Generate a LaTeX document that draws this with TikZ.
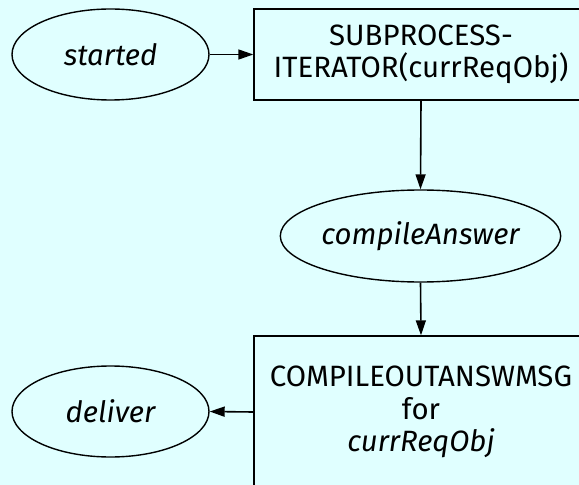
\documentclass[tikz,border=0pt]{standalone}
\usepackage{fontspec}
\setmainfont{Fira Sans}
\usetikzlibrary{shapes.geometric,arrows.meta}
\definecolor{canvas}{HTML}{E0FFFF}
\begin{document}
\begin{tikzpicture}[x=1bp,y=-1bp,
  every node/.style={font=\fontsize{29.5}{32.5}\selectfont, inner sep=0pt, line width=1.4bp, draw=black},
  state/.style={ellipse, minimum width=197bp, minimum height=91bp, font=\fontsize{29.5}{32.5}\selectfont\itshape},
  procbox/.style={rectangle, minimum width=334bp, align=center},
  flow/.style={line width=1.6bp, -{Triangle[length=15bp,width=10bp]}}
]
  % canvas
  \fill[canvas] (0,0) rectangle (579,485);
  \useasboundingbox (0,0) rectangle (579,485);
  \begin{scope}
  \clip (0,0) rectangle (579,485);

  \node[state] (started) at (110.5,54.5) {started};
  \node[procbox, minimum height=91bp] (iter) at (421,54.5) {SUBPROCESS-\\ITERATOR(currReqObj)};
  \node[state, minimum width=273bp, minimum height=92bp] (compile) at (420.5,236) {compileAnswer};
  \node[procbox, minimum height=152bp] (outmsg) at (421,412) {COMPILEOUTANSWMSG\\for\\\textit{currReqObj}};
  \node[state] (deliver) at (110.5,411.5) {deliver};

  \draw[flow] (started.east) -- (iter.west);
  \draw[flow] (iter.south) -- (compile.north);
  \draw[flow] (compile.south) -- (outmsg.north);
  \draw[flow] (outmsg.west) -- (deliver.east);
  \end{scope}
\end{tikzpicture}
\end{document}
